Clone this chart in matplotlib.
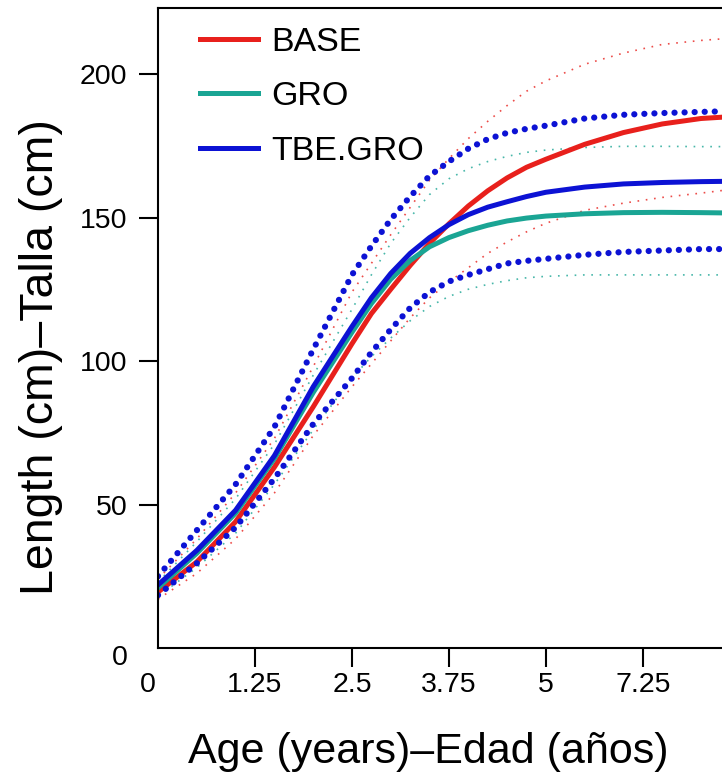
import matplotlib.pyplot as plt
from matplotlib.transforms import ScaledTranslation

plt.rcParams['font.family'] = ['Liberation Sans', 'DejaVu Sans']

# age (years) where values were read
age = [0, 0.5, 1, 1.5, 2, 2.5, 2.75, 3, 3.25, 3.5, 3.75, 4, 4.25, 4.5, 4.75, 5,
       5.5, 6, 6.5, 7, 7.3]

# fitted lengths (cm)
base = [19.5, 30, 44, 63, 84, 106, 116.5, 125, 133.3, 141, 147.8, 154, 159.3, 163.8,
        167.5, 170.3, 175.5, 179.6, 182.6, 184.5, 185]
gro = [21, 33, 47, 66, 89, 110, 120, 128.5, 135, 139.8, 143, 145.4, 147.3, 148.8,
       149.8, 150.5, 151.3, 151.7, 151.8, 151.7, 151.6]
tbe_gro = [22, 34, 48, 67, 91, 112, 122, 130.5, 137.5, 143, 147.5, 151, 153.6, 155.5,
           157.3, 158.8, 160.6, 161.7, 162.2, 162.5, 162.6]

# confidence bands
base_hi = [24, 38, 54, 73, 98, 124, 134, 144, 153.5, 163, 170.5, 177.5, 183.5, 189,
           194, 197.6, 203.4, 207.3, 210.3, 211.7, 212.3]
base_lo = [17, 26, 38, 54, 74, 91, 99, 107, 115, 122, 127.5, 132.5, 137.5, 141.5,
           145, 148, 152.5, 155, 157, 158.5, 159.5]
gro_hi = [23, 37, 52, 71, 95, 118, 130, 141, 150, 158, 163.5, 167, 169.5, 171.3,
          172.7, 173.5, 174.4, 174.8, 174.8, 174.7, 174.7]
gro_lo = [18, 28, 40, 57, 76, 94, 101.5, 108, 114, 119, 122.5, 125, 126.7, 128,
          129, 129.5, 130, 130, 130, 130, 130]
tbe_hi = [25, 41, 57, 77, 104, 130, 140, 149.3, 157.3, 164.5, 169.5, 174, 177.3, 179.5,
          180.9, 182, 184.5, 185.8, 186.4, 186.8, 187]
tbe_lo = [18.4, 29.5, 42, 59, 78, 94, 103, 111, 118.5, 124, 127.7, 130, 132, 134,
          134.9, 135.6, 137, 138, 138.5, 139, 139]

xtick_pos = [0, 1.25, 2.5, 3.75, 5, 6.25]
xtick_labels = ['0', '1.25', '2.5', '3.75', '5', '7.25']
ytick_pos = [0, 50, 100, 150, 200]

red = '#e8201c'
teal = '#1aa594'
blue = '#0c12d4'

fig = plt.figure(figsize=(7.22, 7.82), dpi=100)
ax = fig.add_axes([158 / 722, 1 - 648 / 782, (722 - 158) / 722, 640 / 782])

thin = (0, (1, 4))
ax.plot(age, base_hi, color=red, lw=1.2, ls=thin, alpha=0.8)
ax.plot(age, base_lo, color=red, lw=1.2, ls=thin, alpha=0.8)
ax.plot(age, gro_hi, color=teal, lw=1.2, ls=thin, alpha=0.8)
ax.plot(age, gro_lo, color=teal, lw=1.2, ls=thin, alpha=0.8)

ax.plot(age, base, color=red, lw=3.6, label='BASE', solid_joinstyle='round')
ax.plot(age, gro, color=teal, lw=3.6, label='GRO', solid_joinstyle='round')
ax.plot(age, tbe_gro, color=blue, lw=3.6, label='TBE.GRO', solid_joinstyle='round')

dots = (0, (0.01, 1.6))
ax.plot(age, tbe_hi, color=blue, lw=4.5, ls=dots, dash_capstyle='round')
ax.plot(age, tbe_lo, color=blue, lw=4.5, ls=dots, dash_capstyle='round')

ax.set_xlim(0, 7.27)
ax.set_ylim(0, 223)
ax.set_xticks(xtick_pos)
ax.set_xticklabels(xtick_labels)
ax.set_yticks(ytick_pos)
ax.tick_params(axis='both', labelsize=20.5, length=14, width=1.5)
ax.tick_params(axis='x', pad=3)
ax.tick_params(axis='y', pad=8)
ax.xaxis.get_major_ticks()[0].tick1line.set_visible(False)
ax.yaxis.get_major_ticks()[0].tick1line.set_visible(False)

# the two zero labels sit a little off the corner
xl0 = ax.get_xticklabels()[0]
xl0.set_transform(xl0.get_transform() + ScaledTranslation(-0.1, 0, fig.dpi_scale_trans))
yl0 = ax.get_yticklabels()[0]
yl0.set_transform(yl0.get_transform() + ScaledTranslation(0, -0.07, fig.dpi_scale_trans))

ax.spines['right'].set_visible(False)
for s in ['left', 'bottom', 'top']:
    ax.spines[s].set_linewidth(1.5)

ax.set_xlabel('Age (years)–Edad (años)', fontsize=31)
ax.set_ylabel('Length (cm)–Talla (cm)', fontsize=33.5)
ax.xaxis.set_label_coords(0.479, -0.132)
ax.yaxis.set_label_coords(-0.168, 0.455)

ax.legend(loc='upper left', bbox_to_anchor=(0.0745, 0.971), frameon=False,
          fontsize=24.5, borderpad=0, borderaxespad=0, handlelength=1.7,
          handletextpad=0.4, labelspacing=0.69)

fig.savefig('out.png', dpi=100)
